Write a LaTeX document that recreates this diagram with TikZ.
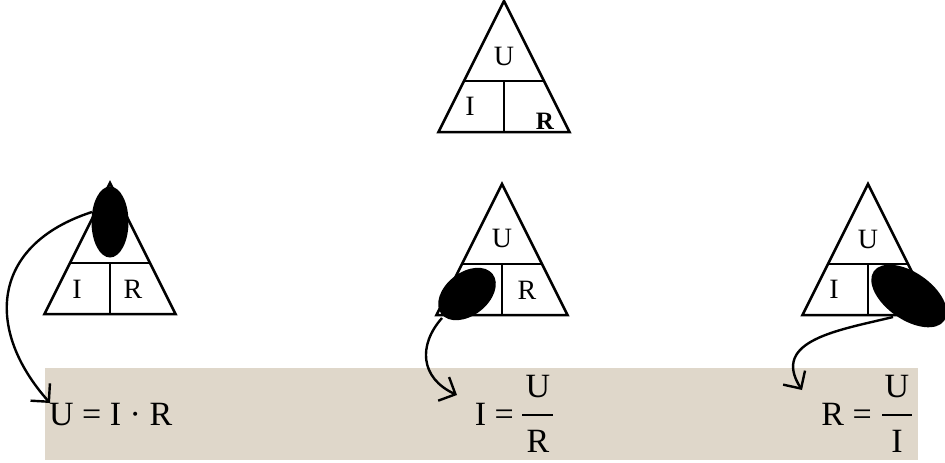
\documentclass[tikz,border=0pt]{standalone}
\usepackage{fontspec}
\setmainfont{Liberation Serif}
\usetikzlibrary{arrows.meta,shapes.geometric}
\definecolor{parch}{RGB}{223,215,202}
\begin{document}
\begin{tikzpicture}[x=1pt,y=-1pt,
  tri/.style={line width=2.5pt, line join=miter},
  lbl/.style={font=\fontsize{28}{30}\selectfont, anchor=base, inner sep=0},
  eq/.style={font=\fontsize{34}{38}\selectfont, inner sep=0},
  blob/.style={ellipse, fill=black, inner sep=0},
  link/.style={line width=2.4pt, -{Straight Barb[length=13pt,width=26pt,line width=2.4pt]}},
  fbar/.style={line width=2.2pt},
  uritri/.pic={
    \draw[tri] (0,0) -- (-65.5,131) -- (65.5,131) -- cycle;
    \draw[tri] (-40,80) -- (40,80);
    \draw[tri] (0,80) -- (0,131);
  }
]
\useasboundingbox (0,0) rectangle (945,463);

% background strip
\fill[parch] (45,368) rectangle (918,460);

% top triangle
\pic at (504,1) {uritri};
\node[lbl] (tU) at (504,65) {U};
\node[lbl] (tI) at (470,115) {I};
\node[lbl, font=\fontsize{25}{30}\selectfont\bfseries] (tR) at (545,129) {R};

% left triangle
\pic at (110,183) {uritri};
\node[lbl] (aI) at (77,298) {I};
\node[lbl] (aR) at (133,298) {R};

% middle triangle
\pic at (502,184) {uritri};
\node[lbl] (bU) at (502,247) {U};
\node[lbl] (bR) at (527,299) {R};

% right triangle
\pic at (868,184) {uritri};
\node[lbl] (cU) at (868,248) {U};
\node[lbl] (cI) at (834,298) {I};

% covering blobs
\node[blob, minimum width=37pt, minimum height=71pt] (b1) at (110,222) {};
\node[blob, minimum width=65pt, minimum height=43pt, rotate=38] (b2) at (467,294) {};
\node[blob, minimum width=86pt, minimum height=47pt, rotate=-35] (b3) at (909,296) {};

% equations
\node[eq, anchor=base west] (eqU) at (49,425) {U = I · R};

\node[eq, anchor=base east] (eqI) at (514,425) {I =};
\node[eq, anchor=base] (n1) at (538,397) {U};
\node[eq, anchor=base] (d1) at (538,452) {R};
\draw[fbar] (522,415) -- (553,415);

\node[eq, anchor=base east] (eqR) at (872,425) {R =};
\node[eq, anchor=base] (n2) at (897,397) {U};
\node[eq, anchor=base] (d2) at (897,452) {I};
\draw[fbar] (882,415) -- (912,415);

% connectors
\coordinate (s1) at (92,212);
\coordinate (t1) at (50,403);
\draw[link] (s1) .. controls (-10,245) and (-15,330) .. (t1);

\coordinate (s2) at (442,318);
\coordinate (t2) at (457,395);
\draw[link] (s2) .. controls (418,345) and (420,378) .. (t2);

\coordinate (s3) at (893,317);
\coordinate (t3) at (802,390);
\draw[link] (s3) .. controls (840,330) and (770,340) .. (t3);
\end{tikzpicture}
\end{document}
